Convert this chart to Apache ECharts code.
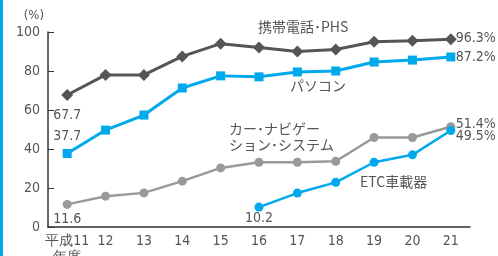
<!DOCTYPE html>
<html>
<head>
<meta charset="utf-8">
<style>
html, body { margin: 0; padding: 0; background: #fff; }
#chart { width: 498px; height: 256px; }
</style>
<script src="https://cdn.jsdelivr.net/npm/echarts@6/dist/echarts.min.js"></script>
</head>
<body>
<div id="chart"></div>
<script>
// 年度
var years = ["平成11\n年度", "12", "13", "14", "15", "16", "17", "18", "19", "20", "21"];
// 携帯電話・PHS
var phsValues = [67.7, 78, 78, 87.5, 94, 92, 90, 91, 95, 95.5, 96.3];
// パソコン
var pcValues = [37.7, 49.7, 57.4, 71.3, 77.5, 77, 79.5, 80, 84.6, 85.6, 87.2];
// カー・ナビゲーション・システム
var naviValues = [11.6, 15.8, 17.5, 23.5, 30.3, 33.2, 33.2, 33.7, 45.9, 45.9, 51.4];
// ETC車載器
var etcValues = [null, null, null, null, null, 10.2, 17.4, 22.9, 33.2, 37.0, 49.5];
var yTicks = [0, 20, 40, 60, 80, 100];

var textColor = "#555";
var numFont = "'Liberation Sans Narrow', 'DejaVu Sans Condensed', sans-serif";
var jpFont = "'Noto Sans CJK JP', sans-serif";

// 最初の値だけラベルを付ける
function firstLabel(values, pos, dist) {
  var done = false;
  return values.map(function (v) {
    if (v == null || done) return v;
    done = true;
    return {
      value: v,
      label: {
        show: true, position: pos, distance: dist,
        color: textColor, fontSize: 14, fontFamily: numFont,
        formatter: function (p) { return p.value.toFixed(1); }
      }
    };
  });
}

function makeSeries(name, values, color, symbol, size, width, firstPos, firstDist, endOffset) {
  return {
    name: name,
    type: "line",
    data: firstLabel(values, firstPos, firstDist),
    symbol: symbol,
    symbolSize: size,
    lineStyle: { color: color, width: width },
    itemStyle: { color: color },
    connectNulls: false,
    animation: false,
    endLabel: {
      show: true, distance: 5, offset: endOffset,
      color: textColor, fontSize: 14, fontFamily: numFont,
      formatter: function (p) { return p.value.toFixed(1) + "%"; }
    }
  };
}

var myChart = echarts.init(document.getElementById("chart"));
var option = {
  animation: false,
  grid: { left: 48, right: 28, top: 32, bottom: 29, outerBoundsMode: "none", containLabel: false },
  xAxis: {
    type: "category",
    data: years,
    boundaryGap: true,
    axisLine: { lineStyle: { color: "#333", width: 1.5 } },
    axisTick: { inside: true, alignWithLabel: true, length: 5, lineStyle: { color: "#333" } },
    axisLabel: { interval: 0, color: textColor, fontSize: 14, fontFamily: numFont, margin: 6, lineHeight: 16 }
  },
  yAxis: {
    type: "value",
    min: 0, max: 100, interval: 20,
    name: "(%)",
    nameGap: 10,
    nameTextStyle: { color: textColor, fontSize: 13, fontFamily: numFont, align: "right", padding: [0, 4, 0, 0] },
    axisLine: { show: true, lineStyle: { color: "#333", width: 1.5 } },
    axisTick: { show: true, inside: true, length: 6, lineStyle: { color: "#333" } },
    splitLine: { show: false },
    axisLabel: {
      color: textColor, fontSize: 14, fontFamily: numFont, margin: 8,
      formatter: function (v) { return yTicks.indexOf(v) >= 0 ? String(v) : ""; }
    }
  },
  series: [
    makeSeries("携帯電話・PHS", phsValues, "#555555", "diamond", 12, 3, "bottom", 7, [0, -1]),
    makeSeries("パソコン", pcValues, "#00a9ec", "rect", 9, 3, "top", 6, [0, 0]),
    makeSeries("カー・ナビゲーション・システム", naviValues, "#999999", "circle", 9, 2.5, "bottom", 3, [0, -2]),
    makeSeries("ETC車載器", etcValues, "#00a9ec", "circle", 9, 2.5, "bottom", 0, [0, 6])
  ],
  graphic: [
    { type: "rect", left: 0, top: 0, shape: { width: 3, height: 256 }, style: { fill: "#00a9ec" } },
    { type: "text", left: 258, top: 20, style: { text: "携帯電話･PHS", fill: textColor, font: "14px " + jpFont } },
    { type: "text", left: 290, top: 79, style: { text: "パソコン", fill: textColor, font: "14px " + jpFont } },
    { type: "text", left: 229, top: 121, style: { text: "カー･ナビゲー\nション･システム", fill: textColor, font: "14px " + jpFont, lineHeight: 16, align: "left" } },
    { type: "text", left: 360, top: 175, style: { text: "ETC車載器", fill: textColor, font: "14px " + jpFont } }
  ]
};
myChart.setOption(option);
</script>
</body>
</html>
